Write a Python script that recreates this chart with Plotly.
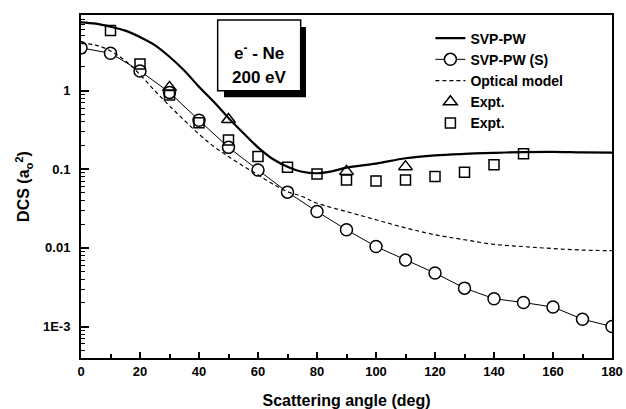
import plotly.graph_objects as go
import numpy as np

# SVP-PW (solid theory curve)
svp_x = [0, 5, 10, 15, 20, 25, 30, 35, 40, 45, 50, 55, 60, 65, 70, 75, 80, 85, 90,
         100, 110, 120, 130, 140, 150, 160, 170, 180]
svp_y = [7.4, 7.1, 6.5, 5.8, 4.8, 3.8, 2.7, 1.8, 1.12, 0.72, 0.45, 0.29, 0.19, 0.135,
         0.108, 0.093, 0.089, 0.094, 0.105, 0.118, 0.138, 0.15, 0.157, 0.162, 0.165,
         0.166, 0.164, 0.163]

# SVP-PW (S) (line with circles)
svps_x = [0, 10, 20, 30, 40, 50, 60, 70, 80, 90, 100, 110, 120, 130, 140, 150, 160, 170, 180]
svps_y = [3.5, 2.99, 1.78, 0.95, 0.42, 0.19, 0.098, 0.0512, 0.029, 0.017, 0.0104, 0.0070,
          0.00479, 0.00308, 0.00226, 0.00202, 0.00177, 0.00124, 0.0010]

# Optical model (dashed)
opt_x = [0, 5, 10, 15, 20, 25, 30, 35, 40, 45, 50, 55, 60, 65, 70, 75, 80, 90, 100,
         110, 120, 130, 140, 150, 160, 170, 180]
opt_y = [4.0, 3.8, 3.2, 2.4, 1.6, 1.0, 0.64, 0.42, 0.28, 0.195, 0.145, 0.11, 0.085,
         0.065, 0.052, 0.045, 0.037, 0.029, 0.0228, 0.018, 0.0147, 0.0127, 0.0111,
         0.0104, 0.0098, 0.0094, 0.0092]

# Experiments
tri_x = [30, 50, 90, 110]
tri_y = [1.1, 0.43, 0.094, 0.108]

sq_x = [10, 20, 30, 40, 50, 60, 70, 80, 90, 100, 110, 120, 130, 140, 150]
sq_y = [5.8, 2.18, 0.88, 0.39, 0.236, 0.145, 0.106, 0.087, 0.073, 0.071, 0.073,
        0.081, 0.092, 0.114, 0.157]

x_ticks = [0, 20, 40, 60, 80, 100, 120, 140, 160, 180]
y_ticks = [0.001, 0.01, 0.1, 1]
y_ticktext = ["1E-3", "0.01", "0.1", "1"]

FONT = "Liberation Sans, Arial, sans-serif"

fig = go.Figure()
fig.add_trace(go.Scatter(x=svp_x, y=svp_y, mode="lines", name="SVP-PW",
                         line=dict(color="black", width=2.2, shape="spline")))
fig.add_trace(go.Scatter(x=svps_x, y=svps_y, mode="lines+markers", name="SVP-PW (S)",
                         line=dict(color="black", width=1),
                         marker=dict(symbol="circle", size=12, color="white",
                                     line=dict(color="black", width=1.5))))
fig.add_trace(go.Scatter(x=opt_x, y=opt_y, mode="lines", name="Optical model",
                         line=dict(color="black", width=1.2, dash="4px,3px", shape="spline")))
fig.add_trace(go.Scatter(x=tri_x, y=tri_y, mode="markers", name="Expt.",
                         marker=dict(symbol="triangle-up-open", size=12, color="black",
                                     line=dict(color="black", width=1.5))))
fig.add_trace(go.Scatter(x=sq_x, y=sq_y, mode="markers", name="Expt.",
                         marker=dict(symbol="square-open", size=10, color="black",
                                     line=dict(color="black", width=1.5))))

minor_y = [k * 10.0 ** n for n in range(-4, 1) for k in range(2, 10)]
minor_y = [v for v in minor_y if 3.98e-4 <= v <= 9.2]

fig.update_xaxes(range=[0, 180], tickvals=x_ticks, ticks="inside", ticklen=6, tickwidth=1.5,
                 tickcolor="black", showline=True, linewidth=2, linecolor="black",
                 mirror=True, showgrid=False, zeroline=False, automargin=False,
                 tickfont=dict(family=FONT, size=13, color="black", weight="bold"),
                 minor=dict(dtick=10, ticks="inside", ticklen=4, tickwidth=1.5, tickcolor="black"),
                 title=dict(text="Scattering angle (deg)", standoff=22,
                            font=dict(family=FONT, size=16, color="black", weight="bold")))
fig.update_yaxes(type="log", range=[-3.40, 0.962], tickmode="array", tickvals=y_ticks,
                 ticktext=y_ticktext, ticks="inside", ticklen=8, tickwidth=1.5,
                 tickcolor="black", showline=True, linewidth=2, linecolor="black",
                 mirror=True, showgrid=False, zeroline=False, ticklabelstandoff=6,
                 automargin=False,
                 tickfont=dict(family=FONT, size=13, color="black", weight="bold"),
                 minor=dict(tickmode="array", tickvals=minor_y, ticks="inside", ticklen=4,
                            tickwidth=1.2, tickcolor="black"),
                 title=dict(text="DCS (a<sub>o</sub><sup>2</sup>)", standoff=9,
                            font=dict(family=FONT, size=16, color="black", weight="bold")))

# text box with shadow
fig.add_shape(type="rect", xref="paper", yref="paper", x0=0.2693, x1=0.4237,
              y0=0.7603, y1=0.9651, fillcolor="black", line=dict(color="black", width=0))
fig.add_shape(type="rect", xref="paper", yref="paper", x0=0.2574, x1=0.4137,
              y0=0.7795, y1=0.9854, fillcolor="white", line=dict(color="black", width=1.5))
fig.add_annotation(xref="paper", yref="paper", x=0.3356, y=0.930, showarrow=False,
                   text="e<sup>-</sup> - Ne",
                   font=dict(family=FONT, size=17, color="black", weight="bold"))
fig.add_annotation(xref="paper", yref="paper", x=0.3356, y=0.852, showarrow=False,
                   text="200 eV",
                   font=dict(family=FONT, size=17, color="black", weight="bold"))

fig.update_layout(width=626, height=409, margin=dict(l=81, r=14, t=15, b=51),
                  plot_bgcolor="white", paper_bgcolor="white",
                  legend=dict(x=0.658, y=0.978, xanchor="left", yanchor="top",
                              bgcolor="rgba(0,0,0,0)", borderwidth=0,
                              font=dict(family=FONT, size=14, color="black", weight="bold")),
                  showlegend=True)

fig.write_html("out.html")
